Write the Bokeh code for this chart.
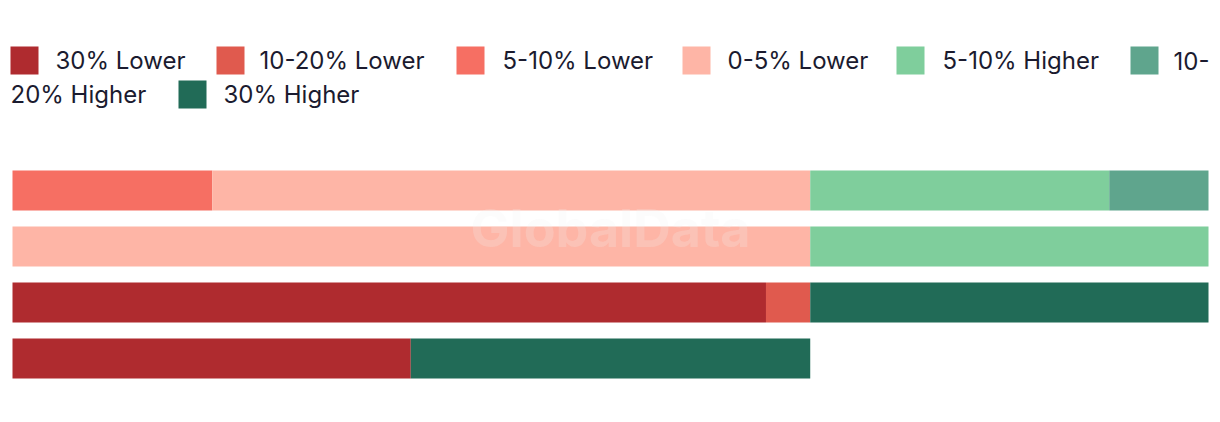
from bokeh.plotting import figure
from bokeh.models import Range1d, ColumnDataSource
from bokeh.core.properties import value
from bokeh.embed import file_html
from bokeh.resources import INLINE

# ---- data ----
rows = [0, 1, 2, 3]  # top to bottom
categories = ["30% Lower", "10-20% Lower", "5-10% Lower", "0-5% Lower",
              "5-10% Higher", "10-20% Higher", "30% Higher"]
colors = ["#AF2B2F", "#E05A4E", "#F66F63", "#FEB5A6", "#7FCE9C", "#5FA58D", "#216B57"]
s_30_lower = [0, 0, 63.0, 33.3]
s_10_20_lower = [0, 0, 3.7, 0]
s_5_10_lower = [16.7, 0, 0, 0]
s_0_5_lower = [50.0, 66.7, 0, 0]
s_5_10_higher = [25.0, 33.3, 0, 0]
s_10_20_higher = [8.3, 0, 0, 0]
s_30_higher = [0, 0, 33.3, 33.4]

series = [s_30_lower, s_10_20_lower, s_5_10_lower, s_0_5_lower,
          s_5_10_higher, s_10_20_higher, s_30_higher]

W, H = 1212, 414
PX_PER_UNIT = 11.96
ROW_PX = 56.0

def xd(px):
    return (px - 12) / PX_PER_UNIT

def yd(py):
    return (py - 190) / ROW_PX

p = figure(width=W, height=H, output_backend="svg", toolbar_location=None,
           x_range=Range1d(xd(0), xd(W)), y_range=Range1d(yd(H), yd(0)),
           min_border=0)
p.axis.visible = False
p.grid.visible = False
p.outline_line_color = None
p.background_fill_color = "white"
p.border_fill_color = "white"

data = {"row": rows}
for c, s in zip(categories, series):
    data[c] = s
src = ColumnDataSource(data)
p.hbar_stack(categories, y="row", height=40 / ROW_PX, color=colors, source=src,
             line_color=None)

# watermark
p.text(x=[xd(610)], y=[yd(228)], text=["GlobalData"], text_align="center",
       text_baseline="alphabetic", text_font=value("Inter"), text_font_style="bold",
       text_font_size="52px", text_color="#f0f0f0", text_alpha=0.22)

# ---- legend (wrapped like the reference) ----
font = value("Inter")
fs = "24px"
tc = "#1b1b2f"
row1_y = yd(60)
row2_y = yd(94)
sq_x = [24, 230, 470, 696, 910, 1144, 192]
sq_y = [row1_y] * 6 + [row2_y]
p.rect(x=[xd(v) for v in sq_x], y=sq_y, width=28, height=28,
       width_units="screen", height_units="screen",
       fill_color=colors, line_color=None)
labels = ["30% Lower", "10-20% Lower", "5-10% Lower", "0-5% Lower",
          "5-10% Higher", "10-", "20% Higher", "30% Higher"]
lx = [55, 259, 502, 727, 942, 1173, 10, 223]
ly = [row1_y] * 6 + [row2_y, row2_y]
p.text(x=[xd(v) for v in lx], y=ly, text=labels, text_align="left",
       text_baseline="middle", text_font=font, text_font_size=fs, text_color=tc)

open("out.html", "w").write(file_html(p, INLINE))
